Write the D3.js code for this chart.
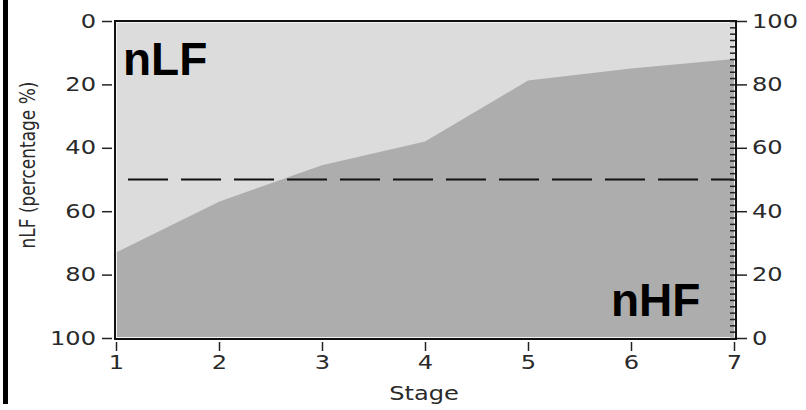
<!DOCTYPE html>
<html>
<head>
<meta charset="utf-8">
<script src="https://cdn.jsdelivr.net/npm/d3@7"></script>
<style>
  body { margin: 0; background: #fff; }
  .axis text { font-family: "DejaVu Sans", sans-serif; font-size: 19px; fill: #2a2a2a; }
  .axis path { display: none; }
  .axis line { stroke: #222; stroke-width: 1.5; }
</style>
</head>
<body>
<div id="chart"></div>
<script>
const width = 806;
const height = 410;

// stage number and nLF share (%)
const stages = [1, 2, 3, 4, 5, 6, 7];
const nLF = [73, 57, 45.5, 38, 18.8, 15, 12];
const leftTicks = [0, 20, 40, 60, 80, 100];
const rightTicks = [0, 20, 40, 60, 80, 100];
const midLine = 50;

const chartData = stages.map(function(s, i) {
  return { stage: s, lf: nLF[i] };
});

const svg = d3.select("#chart")
  .append("svg")
  .attr("width", width)
  .attr("height", height);

const xScale = d3.scaleLinear()
  .domain([1, 7])
  .range([116, 734]);

// left axis: nLF, 0 at top
const yScale = d3.scaleLinear()
  .domain([0, 100])
  .range([21, 338]);

// right axis: nHF, 0 at bottom
const yRight = d3.scaleLinear()
  .domain([0, 100])
  .range([338, 21]);

const stretch = 1.27;

// black bar at the far left
svg.append("rect")
  .attr("x", 3)
  .attr("y", 0)
  .attr("width", 5)
  .attr("height", 404)
  .attr("fill", "#000");

// nLF region (top)
svg.append("rect")
  .attr("x", xScale(1))
  .attr("y", yScale(0))
  .attr("width", xScale(7) - xScale(1))
  .attr("height", yScale(100) - yScale(0))
  .attr("fill", "#dcdcdc");

// nHF region (bottom)
const area = d3.area()
  .x(function(d) { return xScale(d.stage); })
  .y0(yScale(100))
  .y1(function(d) { return yScale(d.lf); })
  .curve(d3.curveLinear);

svg.append("path")
  .datum(chartData)
  .attr("d", area)
  .attr("fill", "#adadad");

// 50% dashed line
svg.append("line")
  .attr("x1", xScale(1) + 12)
  .attr("x2", xScale(7))
  .attr("y1", yScale(midLine))
  .attr("y2", yScale(midLine))
  .attr("stroke", "#111")
  .attr("stroke-width", 2)
  .attr("stroke-dasharray", "40,13");

// frame
svg.append("rect")
  .attr("x", 116.5)
  .attr("y", 22.5)
  .attr("width", 618)
  .attr("height", 315)
  .attr("fill", "none")
  .attr("stroke", "#f2f2f2")
  .attr("stroke-width", 1);

svg.append("rect")
  .attr("x", 115)
  .attr("y", 21)
  .attr("width", 621)
  .attr("height", 318)
  .attr("fill", "none")
  .attr("stroke", "#111")
  .attr("stroke-width", 2);

// axes
const leftAxis = svg.append("g")
  .attr("class", "axis")
  .attr("transform", "translate(112,0)")
  .call(d3.axisLeft(yScale).tickValues(leftTicks).tickSize(10).tickSizeOuter(0));

leftAxis.selectAll("text")
  .attr("x", 0)
  .attr("transform", "translate(-16,0) scale(" + stretch + ",1)");

const rightAxis = svg.append("g")
  .attr("class", "axis")
  .attr("transform", "translate(737,0)")
  .call(d3.axisRight(yRight).tickValues(rightTicks).tickSize(10).tickSizeOuter(0));

rightAxis.selectAll("text")
  .attr("x", 0)
  .attr("transform", "translate(15,0) scale(" + stretch + ",1)");

// minor ticks inside the right edge
svg.append("g")
  .attr("class", "axis")
  .attr("transform", "translate(735,0)")
  .call(d3.axisLeft(yRight).ticks(40).tickSize(5).tickSizeOuter(0).tickFormat(""));

const bottomAxis = svg.append("g")
  .attr("class", "axis")
  .attr("transform", "translate(0,342)")
  .call(d3.axisBottom(xScale).tickValues(stages).tickSize(9).tickSizeOuter(0).tickFormat(d3.format("d")));

bottomAxis.selectAll("text")
  .attr("y", 14)
  .attr("transform", "scale(" + stretch + ",1)");

// axis titles
svg.append("text")
  .attr("transform", "translate(35,165) rotate(-90) scale(1," + stretch + ")")
  .attr("text-anchor", "middle")
  .attr("font-family", "DejaVu Sans, sans-serif")
  .attr("font-size", "17px")
  .attr("fill", "#2a2a2a")
  .text("nLF (percentage %)");

svg.append("text")
  .attr("transform", "translate(424,400) scale(" + stretch + ",1)")
  .attr("text-anchor", "middle")
  .attr("font-family", "DejaVu Sans, sans-serif")
  .attr("font-size", "19px")
  .attr("fill", "#2a2a2a")
  .text("Stage");

// region labels
svg.append("text")
  .attr("x", 123)
  .attr("y", 75)
  .attr("font-family", "Liberation Sans, Arial, sans-serif")
  .attr("font-weight", "bold")
  .attr("font-size", "46px")
  .attr("fill", "#000")
  .text("nLF");

svg.append("text")
  .attr("x", 611)
  .attr("y", 316)
  .attr("font-family", "Liberation Sans, Arial, sans-serif")
  .attr("font-weight", "bold")
  .attr("font-size", "46px")
  .attr("fill", "#000")
  .text("nHF");
</script>
</body>
</html>
